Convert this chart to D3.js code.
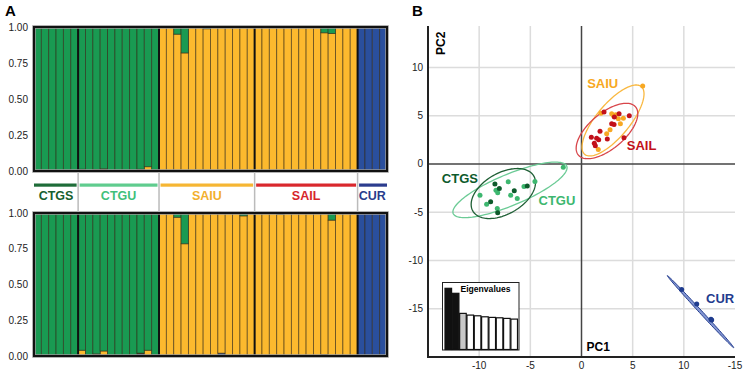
<!DOCTYPE html>
<html>
<head>
<meta charset="utf-8">
<script src="https://cdn.jsdelivr.net/npm/d3@7"></script>
<style>
  body { margin: 0; background: #fff; }
  svg { display: block; font-family: "Liberation Sans", Arial, Helvetica, sans-serif; }
</style>
</head>
<body>
<div id="chart"></div>
<script>
// ---- structure plot data (A) ----
const groups = ['CTGS', 'CTGU', 'SAIU', 'SAIL', 'CUR']
const groupSizes = [6, 11, 13, 14, 4]
const clusterNames = ['blue', 'dark', 'yellow', 'green']   // stacking order bottom -> top

// ancestry fractions per individual (48), top run
const topYellow = [0,0,0,0,0,0, 0,0,0,0,0,0,0,0,0,0.03,0, 1,1,0.95,0.82,1,1,0.988,1,0.994,0.995,1,1,1, 1,1,1,1,1,1,1,1,1,0.952,0.955,1,1,1, 0,0,0,0]
const topGreen  = [1,1,1,1,1,1, 0.988,1,0.99,0.985,1,1,1,1,0.988,0.97,0.992, 0,0,0.05,0.18,0,0,0.012,0,0,0,0,0,0, 0,0,0,0,0,0,0,0,0,0.04,0.045,0,0,0, 0,0,0,0]
const topDark   = [0,0,0,0,0,0, 0.012,0,0.01,0.015,0,0,0,0,0.012,0,0.008, 0,0,0,0,0,0,0,0,0.006,0.005,0,0,0, 0,0,0,0,0,0,0,0,0,0.008,0,0,0,0, 0,0,0,0]
const topBlue   = [0,0,0,0,0,0, 0,0,0,0,0,0,0,0,0,0,0, 0,0,0,0,0,0,0,0,0,0,0,0,0, 0,0,0,0,0,0,0,0,0,0,0,0,0,0, 1,1,1,1]

// bottom run
const botYellow = [0,0,0,0,0,0, 0.035,0,0,0.03,0,0,0,0,0,0.035,0, 1,1,0.97,0.785,1,1,1,1,0.98,1,1,0.98,1, 1,1,1,0.992,1,1,1,1,1,0.99,0.95,1,1,1, 0,0,0,0]
const botGreen  = [1,1,1,1,1,1, 0.96,1,0.985,0.965,1,1,1,1,0.98,0.96,1, 0,0,0.03,0.215,0,0,0,0,0,0,0,0.02,0, 0,0,0,0.008,0,0,0,0,0,0,0.05,0,0,0, 0,0,0,0]
const botDark   = [0,0,0,0,0,0, 0.005,0,0.015,0.005,0,0,0,0,0.005,0.005,0, 0,0,0,0,0,0,0,0,0,0,0,0,0, 0,0,0,0,0,0,0,0,0,0.01,0,0,0,0, 0,0,0,0]
const botBlue   = [0,0,0,0,0,0, 0,0,0,0,0,0,0,0,0.015,0,0, 0,0,0,0,0,0,0,0,0.02,0,0,0,0, 0,0,0,0,0,0,0,0,0,0,0,0,0,0, 1,1,1,1]

const yTicks = [0, 0.25, 0.5, 0.75, 1]

// ---- PCA data (B) ----
const ctgsPC1 = [-8.46, -8.03, -6.57, -5.30, -8.88, -8.19]
const ctgsPC2 = [-2.08, -2.54, -2.78, -2.29, -3.90, -5.04]
const ctguPC1 = [-1.78, -4.55, -7.16, -5.62, -8.36, -8.19, -9.92, -6.92, -6.28, -9.27, -8.23]
const ctguPC2 = [-0.35, -1.81, -1.84, -2.33, -2.71, -2.99, -3.23, -3.23, -3.58, -4.17, -4.62]
const saiuPC1 = [5.98, 1.90, 2.95, 3.34, 4.09, 3.60, 3.80, 2.79, 2.46, 1.64, 3.11]
const saiuPC2 = [8.08, 5.27, 5.20, 5.10, 4.75, 4.69, 4.17, 3.54, 3.13, 1.49, 5.03]
const sailPC1 = [2.20, 3.67, 3.21, 4.67, 2.95, 3.18, 1.81, 0.96, 1.48, 1.68, 2.52, 4.15, 1.25, 1.35]
const sailPC2 = [5.38, 5.20, 4.86, 5.00, 4.17, 4.09, 3.40, 2.77, 2.67, 2.50, 2.60, 2.71, 2.15, 1.90]
const curPC1 = [9.79, 11.26, 12.72, 12.65]
const curPC2 = [-13.0, -14.5, -16.17, -16.1]

// confidence ellipses: centre, semi-axes, angle (deg), in PC units
const ellipseGroups = ['CTGU', 'CTGS', 'SAIU', 'SAIL', 'CUR']
const ellipseCx = [-6.99, -7.64, 3.08, 2.49, 11.63]
const ellipseCy = [-2.68, -3.06, 4.51, 3.42, -15.3]
const ellipseA = [6.07, 3.49, 4.47, 3.75, 4.95]
const ellipseB = [1.6, 2.1, 1.65, 1.8, 0.14]
const ellipseAngle = [24.1, 33, 52.3, 42.8, -49]

const xTickValues = [-10, -5, 0, 5, 10, 15]
const xTickLabels = ['-10', '-5', '0', '5', '10', '-15']
const yTickValuesB = [10, 5, 0, -5, -10, -15]

const eigenvalues = [61, 56, 36, 34.3, 33.6, 32.6, 32, 31.6, 31, 30.3]

const pcaLabels = ['SAIU', 'SAIL', 'CTGS', 'CTGU', 'CUR']
const pcaLabelX = [0.55, 4.42, -13.65, -4.2, 12.17]
const pcaLabelY = [7.88, 1.45, -1.95, -4.25, -14.37]

const clusterColors = { green: '#199a52', yellow: '#fcb92e', blue: '#2a4f9d', dark: '#5b3b17' }
const groupLineColors = { CTGS: '#1e6c38', CTGU: '#5fcc8e', SAIU: '#f6b633', SAIL: '#d9272d', CUR: '#2b3c8e' }
const groupTextColors = { CTGS: '#17602f', CTGU: '#3fc07a', SAIU: '#f2b02e', SAIL: '#d6262b', CUR: '#283b8c' }
const pointColors = { CTGS: '#0d5a2b', CTGU: '#3db76f', SAIU: '#f7a823', SAIL: '#c2101a', CUR: '#1f3c8e' }
const ellipseColors = { CTGS: '#1f5f35', CTGU: '#6ccb96', SAIU: '#f9b840', SAIL: '#d8454a', CUR: '#233c8e' }

const svg = d3.select('#chart').append('svg').attr('width', 743).attr('height', 371)

// ================= panel A =================
const nInd = d3.sum(groupSizes)
const bx = d3.scaleBand().domain(d3.range(nInd)).range([34, 387])
const groupStart = groupSizes.map((s, i) => d3.sum(groupSizes.slice(0, i)))
const boundaries = groupStart.slice(1).map(i => bx(i))

svg.append('text').attr('x', 5).attr('y', 16).attr('font-size', 15).attr('font-weight', 700).text('A')

function rowsFrom(blue, dark, yellow, green) {
  return d3.range(nInd).map(i => ({ i: i, blue: blue[i], dark: dark[i], yellow: yellow[i], green: green[i] }))
}

function drawStructure(rows, yTop, yBottom) {
  const y = d3.scaleLinear().domain([0, 1]).range([yBottom, yTop])
  const g = svg.append('g')
  const series = d3.stack().keys(clusterNames)(rows)
  g.selectAll('.layer')
    .data(series)
    .enter()
    .append('g')
    .attr('fill', d => clusterColors[d.key])
    .selectAll('rect')
    .data(d => d.filter(v => v[1] - v[0] > 0))
    .enter()
    .append('rect')
    .attr('x', d => bx(d.data.i))
    .attr('width', bx.bandwidth())
    .attr('y', d => y(d[1]))
    .attr('height', d => y(d[0]) - y(d[1]))
    .attr('stroke', 'rgba(45,35,15,0.6)')
    .attr('stroke-width', 0.9)

  // group separators
  g.selectAll('.sep')
    .data(boundaries)
    .enter()
    .append('line')
    .attr('x1', d => d).attr('x2', d => d)
    .attr('y1', yTop).attr('y2', yBottom)
    .attr('stroke', '#111').attr('stroke-width', 2)

  g.append('rect')
    .attr('x', 34).attr('y', yTop)
    .attr('width', 353).attr('height', yBottom - yTop)
    .attr('fill', 'none').attr('stroke', '#999').attr('stroke-width', 3.5)
  g.append('rect')
    .attr('x', 34).attr('y', yTop)
    .attr('width', 353).attr('height', yBottom - yTop)
    .attr('fill', 'none').attr('stroke', '#111').attr('stroke-width', 2)

  g.selectAll('.yt')
    .data(yTicks)
    .enter()
    .append('text')
    .attr('x', 28)
    .attr('y', d => y(d) + 3.5)
    .attr('text-anchor', 'end')
    .attr('font-size', 10)
    .attr('fill', '#222')
    .text(d => d3.format('.2f')(d))
}

drawStructure(rowsFrom(topBlue, topDark, topYellow, topGreen), 27, 171)
drawStructure(rowsFrom(botBlue, botDark, botYellow, botGreen), 213, 356)

// between-panel labels
svg.selectAll('.gsep')
  .data(boundaries)
  .enter()
  .append('line')
  .attr('x1', d => d).attr('x2', d => d)
  .attr('y1', 172).attr('y2', 212)
  .attr('stroke', '#bbb').attr('stroke-width', 1.5)

const labelG = svg.selectAll('.grp')
  .data(groups)
  .enter()
  .append('g')

labelG.append('rect')
  .attr('x', (d, i) => bx(groupStart[i]) + (i === 0 ? 0 : 1.5))
  .attr('width', (d, i) => groupSizes[i] * bx.bandwidth() - (i === 0 ? 1.5 : 3) + (i === groups.length - 1 ? 1.5 : 0))
  .attr('y', 183.5)
  .attr('height', 3.2)
  .attr('fill', d => groupLineColors[d])

labelG.append('text')
  .attr('x', (d, i) => bx(groupStart[i]) + groupSizes[i] * bx.bandwidth() / 2)
  .attr('y', 199.5)
  .attr('text-anchor', 'middle')
  .attr('font-size', 12.5)
  .attr('font-weight', 700)
  .attr('fill', d => groupTextColors[d])
  .text(d => d)

// ================= panel B =================
const sx = d3.scaleLinear().domain([-15, 15]).range([428, 735])
const sy = d3.scaleLinear().domain([-20, 14.3]).range([357, 26])

svg.append('text').attr('x', 412).attr('y', 16).attr('font-size', 15).attr('font-weight', 700).text('B')

const pg = svg.append('g')

// grid
pg.selectAll('.vg')
  .data(xTickValues.filter(v => v !== 0 && v < 15))
  .enter()
  .append('line')
  .attr('x1', d => sx(d)).attr('x2', d => sx(d))
  .attr('y1', sy(14.3)).attr('y2', sy(-20))
  .attr('stroke', '#dcdcdc').attr('stroke-width', 1.5)
pg.selectAll('.hg')
  .data(yTickValuesB.filter(v => v !== 0))
  .enter()
  .append('line')
  .attr('x1', sx(-15)).attr('x2', sx(15))
  .attr('y1', d => sy(d)).attr('y2', d => sy(d))
  .attr('stroke', '#dcdcdc').attr('stroke-width', 1.5)

// zero lines
pg.append('line').attr('x1', sx(0)).attr('x2', sx(0)).attr('y1', sy(14.3)).attr('y2', sy(-20))
  .attr('stroke', '#444').attr('stroke-width', 1.5)
pg.append('line').attr('x1', sx(-15)).attr('x2', sx(15)).attr('y1', sy(0)).attr('y2', sy(0))
  .attr('stroke', '#444').attr('stroke-width', 1.5)

// axes frame
pg.append('line').attr('x1', sx(-15)).attr('x2', sx(-15)).attr('y1', sy(14.3)).attr('y2', sy(-20) + 1)
  .attr('stroke', '#222').attr('stroke-width', 2)
pg.append('line').attr('x1', sx(-15)).attr('x2', sx(15)).attr('y1', sy(-20)).attr('y2', sy(-20))
  .attr('stroke', '#222').attr('stroke-width', 2)

pg.selectAll('.xt')
  .data(xTickValues)
  .enter()
  .append('text')
  .attr('x', d => sx(d))
  .attr('y', 369)
  .attr('text-anchor', 'middle')
  .attr('font-size', 10)
  .attr('fill', '#222')
  .text((d, i) => xTickLabels[i])

pg.selectAll('.ytb')
  .data(yTickValuesB)
  .enter()
  .append('text')
  .attr('x', 423)
  .attr('y', d => sy(d) + 3.5)
  .attr('text-anchor', 'end')
  .attr('font-size', 10)
  .attr('fill', '#222')
  .text(d => d)

pg.append('text')
  .attr('transform', 'translate(445,' + 55 + ') rotate(-90)')
  .attr('font-size', 12)
  .attr('font-weight', 700)
  .text('PC2')
pg.append('text')
  .attr('x', sx(0) + 5).attr('y', 351)
  .attr('font-size', 12)
  .attr('font-weight', 700)
  .text('PC1')

// ellipses
const ellipseLine = d3.line().x(p => sx(p[0])).y(p => sy(p[1])).curve(d3.curveLinearClosed)
ellipseGroups.forEach((grp, k) => {
  const th = ellipseAngle[k] * Math.PI / 180
  const pts = d3.range(0, 2 * Math.PI, Math.PI / 60).map(t => {
    const u = ellipseA[k] * Math.cos(t), v = ellipseB[k] * Math.sin(t)
    return [ellipseCx[k] + u * Math.cos(th) - v * Math.sin(th), ellipseCy[k] + u * Math.sin(th) + v * Math.cos(th)]
  })
  pg.append('path')
    .attr('d', ellipseLine(pts))
    .attr('fill', grp === 'CUR' ? '#8396d2' : 'none')
    .attr('stroke', ellipseColors[grp])
    .attr('stroke-width', grp === 'CUR' ? 1 : 1.3)
})

// points
const pointSets = [
  ['CTGU', ctguPC1, ctguPC2],
  ['CTGS', ctgsPC1, ctgsPC2],
  ['SAIU', saiuPC1, saiuPC2],
  ['SAIL', sailPC1, sailPC2],
  ['CUR', curPC1, curPC2]
]
pointSets.forEach(([grp, xs, ys]) => {
  pg.selectAll('.pt-' + grp)
    .data(xs.map((x, i) => [x, ys[i]]))
    .enter()
    .append('circle')
    .attr('cx', d => sx(d[0]))
    .attr('cy', d => sy(d[1]))
    .attr('r', 2.5)
    .attr('fill', pointColors[grp])
})

// group labels on the PCA
pg.selectAll('.pl')
  .data(pcaLabels)
  .enter()
  .append('text')
  .attr('x', (d, i) => sx(pcaLabelX[i]))
  .attr('y', (d, i) => sy(pcaLabelY[i]))
  .attr('font-size', 13)
  .attr('font-weight', 700)
  .attr('fill', d => pointColors[d])
  .text(d => d)

// eigenvalue inset
const inset = pg.append('g')
inset.append('rect')
  .attr('x', 442.5).attr('y', 282.5).attr('width', 76.5).attr('height', 67.5)
  .attr('fill', '#fff').attr('stroke', '#222').attr('stroke-width', 1)
inset.append('text')
  .attr('x', 485.5).attr('y', 292)
  .attr('text-anchor', 'middle')
  .attr('font-size', 8.6)
  .attr('font-weight', 700)
  .text('Eigenvalues')
const ex = d3.scaleBand().domain(d3.range(eigenvalues.length)).range([445, 517.5]).paddingInner(0.1)
const ey = d3.scaleLinear().domain([0, 61]).range([349.5, 288.3])
inset.selectAll('.eb')
  .data(eigenvalues)
  .enter()
  .append('rect')
  .attr('x', (d, i) => ex(i))
  .attr('width', ex.bandwidth())
  .attr('y', d => ey(d))
  .attr('height', d => ey(0) - ey(d))
  .attr('fill', (d, i) => i < 2 ? '#111' : (i === 2 ? '#c8c8c8' : '#fff'))
  .attr('stroke', '#111')
  .attr('stroke-width', 1.2)
</script>
</body>
</html>
